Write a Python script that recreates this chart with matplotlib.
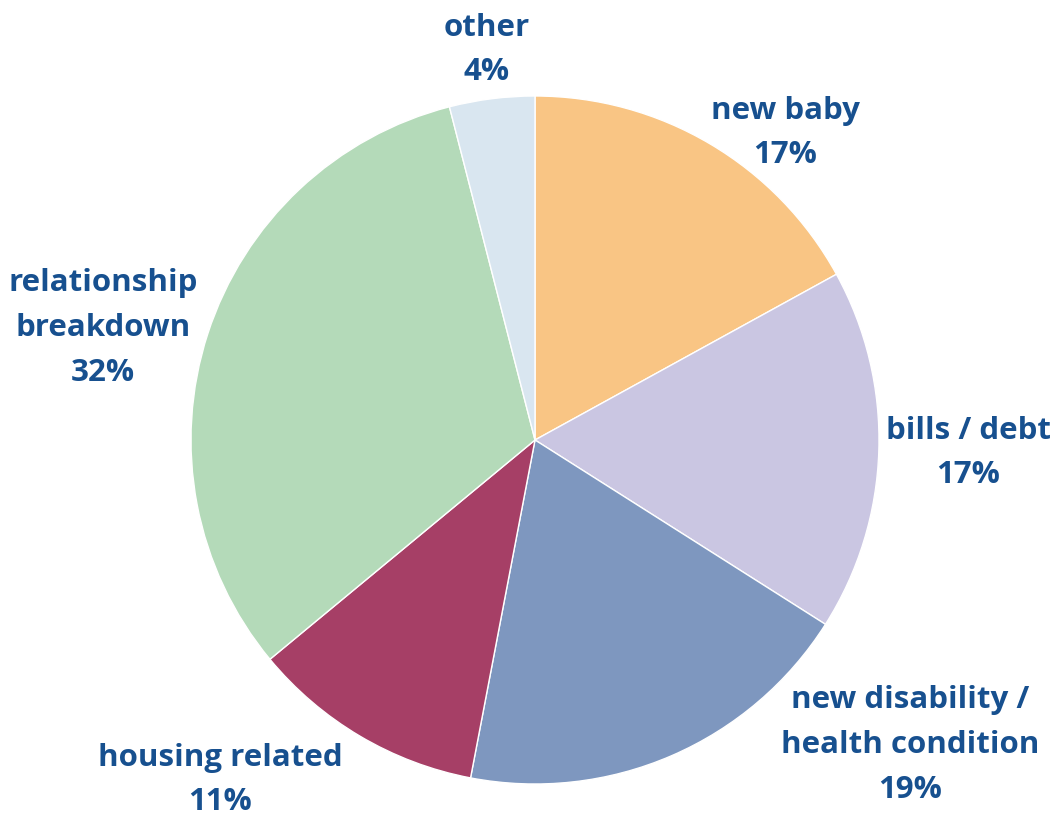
import matplotlib.pyplot as plt

# data
labels = ["new baby", "bills / debt", "new disability /\nhealth condition",
          "housing related", "relationship\nbreakdown", "other"]
values = [17, 17, 19, 11, 32, 4]
colors = ["#F9C584", "#CAC6E2", "#7E97BF", "#A63F66", "#B4DAB9", "#D9E6F0"]

# label placement in pixel coordinates (x, y from top)
label_pos = [(785, 133), (968, 453), (910, 745), (220, 780), (103, 328), (487, 50)]

W, H = 1053, 817
fig = plt.figure(figsize=(W / 100, H / 100), dpi=100)
ax = fig.add_axes([0, 0, 1, 1])

cx, cy, r = 535, H - 440, 344
ax.pie(values, colors=colors, startangle=90, counterclock=False,
       center=(cx, cy), radius=r, frame=True,
       wedgeprops=dict(edgecolor="white", linewidth=1))
ax.set_xlim(0, W)
ax.set_ylim(0, H)
ax.set_aspect("equal")
ax.axis("off")

for lab, val, (x, y) in zip(labels, values, label_pos):
    ax.text(x, H - y, f"{lab}\n{val}%", ha="center", va="center",
            fontsize=22.5, fontweight="bold", family="Open Sans",
            color="#17508F", linespacing=1.64)

fig.savefig("out.png", dpi=100)
